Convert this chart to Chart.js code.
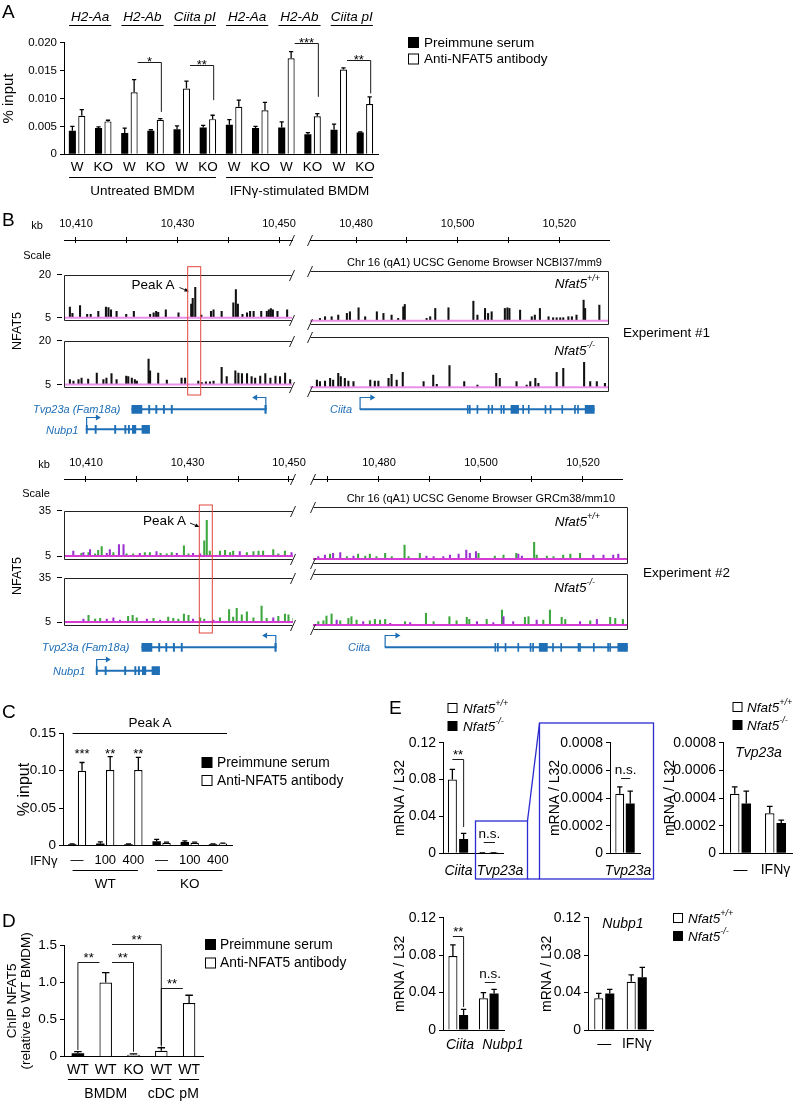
<!DOCTYPE html>
<html>
<head>
<meta charset="utf-8">
<title>NFAT5 ChIP and mRNA</title>
<script src="https://cdn.jsdelivr.net/npm/chart.js"></script>
<style>
  html, body { margin: 0; padding: 0; background: #fff; }
  #page { position: relative; width: 793px; height: 1101px; overflow: hidden; background: #fff; }
  #page canvas { position: absolute; }
  #overlay { position: absolute; left: 0; top: 0; z-index: 5; font-family: "Liberation Sans", Arial, Helvetica, sans-serif; }
</style>
</head>
<body>
<div id="page"><svg id="overlay" width="793" height="1101"></svg></div>
<script>
// ---------- panel A: ChIP % input ----------
const aTargets = ['H2-Aa', 'H2-Ab', 'Ciita pI', 'H2-Aa', 'H2-Ab', 'Ciita pI'];
const aCategories = ['W', 'KO', 'W', 'KO', 'W', 'KO', 'W', 'KO', 'W', 'KO', 'W', 'KO'];
const aGroups = ['Untreated BMDM', 'IFN\u03b3-stimulated BMDM'];
const aTicks = [0, 0.005, 0.01, 0.015, 0.02];
const aPreimmune = [0.0042, 0.0047, 0.0038, 0.0042, 0.0045, 0.0048, 0.0053, 0.0047, 0.0048, 0.0036, 0.0044, 0.0039];
const aPreimmuneErr = [0.0008, 0.0002, 0.0009, 0.0002, 0.0006, 0.0004, 0.0009, 0.0003, 0.0010, 0.0003, 0.0010, 0.0001];
const aAntiNfat5 = [0.0069, 0.0059, 0.0111, 0.0062, 0.0118, 0.0063, 0.0085, 0.0079, 0.0172, 0.0068, 0.0152, 0.0090];
const aAntiNfat5Err = [0.0011, 0.0002, 0.0023, 0.0002, 0.0013, 0.0007, 0.0012, 0.0014, 0.0012, 0.0005, 0.0003, 0.0013];

// ---------- panel B: genome browser ----------
const rulerTicks = [10410, 10420, 10430, 10440, 10450, 10470, 10480, 10490, 10500, 10510, 10520];
const rulerLabels = [10410, 10430, 10450, 10480, 10500, 10520];
// [kb, signal]
const exp1WtPeaks = [
  [10408.8, 8.7], [10409.3, 6.5], [10410.8, 9.2], [10412.2, 6.2], [10412.9, 6.2], [10414.4, 7.2], [10415.9, 8.7],
  [10416.4, 8.5], [10416.9, 7.7], [10418.0, 7.2], [10419.9, 6.2], [10421.4, 7.2], [10424.6, 6.2], [10425.3, 6.7],
  [10425.8, 7.2], [10426.2, 6.9], [10427.7, 7.7], [10430.2, 6.7], [10432.7, 9.7], [10433.0, 11.7], [10433.5, 15.6],
  [10434.7, 5.9], [10436.6, 7.2], [10437.1, 7.7], [10438.7, 7.2], [10441.0, 10.2], [10441.5, 14.8], [10441.9, 9.7],
  [10442.8, 6.2], [10443.7, 6.7], [10444.3, 7.2], [10445.0, 7.2], [10446.5, 7.2], [10447.6, 7.2], [10448.0, 7.7],
  [10448.4, 8.2], [10448.8, 7.7], [10449.7, 7.2], [10451.6, 7.7],
  [10472.9, 5.7], [10473.9, 6.2], [10475.2, 6.2], [10476.5, 6.7], [10478.2, 7.2], [10478.8, 7.7], [10480.5, 8.9],
  [10481.8, 6.2], [10484.1, 7.7], [10485.4, 7.2], [10487.0, 6.7], [10488.3, 5.7], [10489.3, 9.2], [10489.6, 9.9],
  [10493.9, 5.7], [10494.6, 6.2], [10495.6, 8.7], [10498.2, 8.9], [10503.1, 10.9], [10503.9, 6.7], [10505.4, 8.7],
  [10506.0, 7.2], [10506.7, 7.7], [10509.3, 8.7], [10509.8, 8.9], [10510.2, 8.7], [10512.3, 8.2], [10514.6, 6.2],
  [10515.2, 6.7], [10516.2, 8.7], [10517.9, 6.2], [10518.8, 5.9], [10519.5, 5.9], [10520.2, 5.9], [10520.8, 5.9],
  [10521.8, 6.2], [10522.5, 6.2], [10523.4, 6.7], [10524.8, 11.2], [10525.1, 8.7], [10527.9, 9.7]
];
const exp1KoPeaks = [
  [10408.8, 6.7], [10409.5, 6.2], [10410.5, 6.7], [10411.1, 7.2], [10412.4, 6.9], [10414.1, 8.9], [10415.4, 6.7],
  [10416.0, 7.2], [10417.0, 8.7], [10418.0, 6.7], [10419.9, 7.9], [10420.3, 7.7], [10421.0, 7.2], [10421.6, 6.7],
  [10422.0, 6.2], [10424.3, 13.7], [10424.6, 9.7], [10426.2, 8.9], [10427.9, 6.5], [10430.8, 7.2], [10431.5, 7.2],
  [10434.1, 6.2], [10434.8, 5.7], [10435.6, 5.9], [10436.4, 5.9], [10437.1, 6.2], [10438.7, 10.9], [10439.7, 7.7],
  [10441.4, 9.7], [10442.0, 8.9], [10442.7, 8.7], [10443.7, 8.7], [10444.6, 7.7], [10445.3, 7.2], [10446.3, 7.9],
  [10447.3, 8.7], [10448.3, 7.2], [10449.3, 7.9], [10450.2, 7.7], [10451.2, 8.9], [10452.2, 6.7],
  [10472.3, 7.2], [10472.9, 6.7], [10473.9, 6.9], [10474.9, 7.7], [10475.5, 7.2], [10476.5, 9.2], [10477.0, 8.2],
  [10477.8, 7.7], [10478.5, 6.9], [10479.5, 6.7], [10482.8, 7.2], [10483.7, 6.9], [10484.4, 6.9], [10486.4, 7.7],
  [10487.0, 8.9], [10488.0, 7.2], [10489.2, 9.5], [10493.3, 6.7], [10495.2, 8.7], [10495.9, 5.9], [10498.4, 11.5],
  [10501.3, 6.7], [10503.9, 5.7], [10507.6, 9.2], [10508.3, 7.7], [10511.6, 6.7], [10513.6, 5.7], [10514.3, 6.7],
  [10515.3, 7.7], [10515.9, 6.2], [10519.5, 9.5], [10520.8, 10.7], [10524.9, 12.5], [10526.1, 6.7], [10527.4, 6.7],
  [10529.0, 6.2]
];
const exp2WtGreen = [
  [10409.1, 6.7], [10410.5, 7.3], [10411.8, 6.4], [10412.4, 8.7], [10413.1, 11.2], [10415.4, 7.3], [10418.0, 6.4],
  [10419.3, 6.4], [10421.6, 7.3], [10422.6, 7.3], [10424.7, 6.7], [10425.9, 6.4], [10426.9, 7.3], [10429.3, 11.8],
  [10430.2, 6.4], [10433.3, 15.1], [10433.8, 28.6], [10434.4, 8.3], [10436.4, 8.3], [10437.4, 8.7], [10438.4, 7.3],
  [10439.0, 8.3], [10441.7, 7.3], [10443.0, 7.9], [10444.0, 8.3], [10444.9, 8.3], [10446.9, 9.3], [10447.9, 6.4],
  [10449.2, 8.3],
  [10470.4, 7.9], [10473.7, 6.4], [10475.9, 7.9], [10477.3, 6.7], [10478.2, 7.9], [10479.5, 6.4], [10481.2, 8.3],
  [10482.5, 6.4], [10485.0, 13.1], [10485.8, 6.4], [10488.0, 8.3], [10499.5, 8.3], [10502.7, 6.7], [10504.4, 7.3],
  [10506.9, 8.3], [10510.4, 14.7], [10510.9, 7.3], [10512.9, 6.7], [10514.2, 6.4], [10516.1, 7.3], [10517.5, 7.9],
  [10519.4, 8.3]
];
const exp2WtPurple = [
  [10407.5, 8.3], [10409.5, 7.3], [10410.8, 9.3], [10414.1, 6.7], [10414.7, 9.3], [10416.5, 12.5], [10417.4, 12.5],
  [10420.6, 6.7], [10423.9, 7.9], [10427.9, 6.7], [10431.1, 6.7], [10432.5, 6.4], [10440.3, 7.9], [10450.5, 7.3],
  [10468.1, 6.4], [10469.4, 7.3], [10471.0, 8.3], [10472.4, 8.7], [10475.0, 6.7], [10489.3, 6.7], [10490.7, 6.4],
  [10492.6, 6.4], [10493.9, 7.3], [10495.6, 7.9], [10497.1, 10.2], [10497.8, 8.3], [10499.0, 9.3], [10507.3, 7.9],
  [10508.0, 6.7], [10522.0, 7.3], [10524.0, 7.3], [10525.9, 7.3], [10526.9, 7.9]
];
const exp2KoGreen = [
  [10410.5, 9.5], [10411.8, 7.0], [10412.8, 7.5], [10418.3, 8.9], [10419.2, 9.5], [10420.0, 7.9], [10423.3, 7.5],
  [10426.2, 8.3], [10427.2, 7.5], [10428.2, 7.0], [10429.3, 10.3], [10430.2, 9.5], [10432.5, 7.9], [10433.3, 7.0],
  [10436.4, 7.9], [10438.2, 13.4], [10439.0, 8.3], [10439.7, 14.2], [10440.7, 9.9], [10441.7, 11.9], [10443.0, 7.9],
  [10444.6, 15.8], [10445.6, 7.5], [10447.9, 8.9], [10449.2, 10.3], [10449.9, 9.9], [10450.9, 7.5],
  [10468.1, 7.0], [10469.1, 7.5], [10469.7, 10.3], [10470.7, 11.5], [10472.4, 7.5], [10474.0, 8.9], [10474.6, 9.9],
  [10475.6, 7.9], [10478.2, 7.5], [10479.2, 8.3], [10480.2, 7.9], [10481.2, 8.3], [10485.1, 7.0], [10489.2, 11.9],
  [10490.7, 7.0], [10493.8, 9.9], [10495.2, 7.5], [10497.2, 9.5], [10497.7, 8.3], [10501.1, 8.3], [10504.1, 13.8],
  [10508.6, 9.5], [10509.3, 9.9], [10512.2, 7.9], [10513.5, 13.8], [10515.8, 9.5], [10516.5, 8.3], [10521.4, 7.5],
  [10525.3, 9.5], [10526.3, 8.9], [10527.8, 8.3]
];
const exp2KoPurple = [
  [10409.5, 7.0], [10414.1, 7.0], [10415.4, 7.9], [10416.7, 6.4], [10422.0, 7.0], [10424.6, 6.4], [10431.1, 7.0],
  [10435.1, 6.4], [10446.9, 7.9], [10471.7, 7.9], [10476.9, 7.0], [10482.2, 6.0], [10486.1, 6.4], [10499.2, 7.0],
  [10502.4, 6.4], [10504.4, 9.9], [10506.3, 7.0], [10510.9, 7.9], [10519.4, 7.0], [10522.7, 8.3]
];
// gene models, kb
const tvp23aSpan = [10421.0, 10447.5];
const tvp23aExons = [[10421.0, 10423.0], [10424.3, 10424.55], [10425.7, 10425.95], [10427.2, 10427.45], [10428.75, 10429.0], [10447.2, 10447.5]];
const tvp23aArrow = [10447.4, -2.7];
const nubp1Span = [10412.0, 10424.5];
const nubp1Exons = [[10412.0, 10412.25], [10413.75, 10414.0], [10417.6, 10417.85], [10419.6, 10419.85], [10420.3, 10420.55], [10421.1, 10421.8], [10423.0, 10424.5]];
const nubp1Arrow = [10412.1, 2.8];
const ciitaSpanMm9 = [10480.8, 10526.9];
const ciitaExonsMm9 = [[10501.9, 10502.1], [10502.3, 10502.5], [10503.8, 10504.0], [10506.0, 10506.2], [10506.7, 10506.9],
  [10508.5, 10508.7], [10509.0, 10509.2], [10510.5, 10512.0], [10512.8, 10513.0], [10513.9, 10514.1], [10517.2, 10517.4],
  [10518.2, 10518.4], [10520.5, 10520.7], [10523.0, 10523.2], [10523.6, 10523.8], [10525.1, 10526.9]];
const ciitaArrowMm9 = [10480.8, 3.0];
const ciitaSpanMm10 = [10481.2, 10528.7];
const ciitaExonsMm10 = [[10502.7, 10502.9], [10503.2, 10503.4], [10504.7, 10504.9], [10507.2, 10507.4], [10509.6, 10509.8],
  [10510.1, 10510.3], [10511.4, 10513.0], [10514.0, 10514.2], [10515.6, 10515.8], [10519.0, 10519.2], [10519.3, 10519.5],
  [10522.0, 10522.2], [10524.8, 10525.0], [10525.2, 10525.4], [10526.8, 10528.7]];
const ciitaArrowMm10 = [10481.2, 3.0];

// ---------- panel C: Peak A ChIP ----------
const cCategories = ['\u2014', '100', '400', '\u2014', '100', '400'];
const cGroups = ['WT', 'KO'];
const cTicks = [0, 0.05, 0.10, 0.15];
const cPreimmune = [0.002, 0.003, 0.002, 0.006, 0.005, 0.002];
const cPreimmuneErr = [0.0005, 0.002, 0.0005, 0.0025, 0.0015, 0.0005];
const cAntiNfat5 = [0.100, 0.101, 0.101, 0.004, 0.004, 0.003];
const cAntiNfat5Err = [0.011, 0.018, 0.017, 0.0008, 0.0008, 0.0005];

// ---------- panel D: relative ChIP ----------
const dCategories = ['WT', 'WT', 'KO', 'WT', 'WT'];
const dGroups = ['BMDM', 'cDC', 'pM'];
const dTicks = [0, 0.5, 1.0, 1.5];
const dPreimmune = [0.045, null, null, null, null];
const dPreimmuneErr = [0.022, 0, 0, 0, 0];
const dAntiNfat5 = [null, 0.995, 0.027, 0.08, 0.72];
const dAntiNfat5Err = [0, 0.135, 0.01, 0.04, 0.105];

// ---------- panel E: mRNA / L32 ----------
const eBigTicks = [0, 0.04, 0.08, 0.12];
const eSmallTicks = [0, 0.0002, 0.0004, 0.0006, 0.0008];
const e1Genes = ['Ciita', 'Tvp23a'];
const e1Wt = [0.080, 0.00043], e1WtErr = [0.011, 0.00005];
const e1Ko = [0.0155, 0.00036], e1KoErr = [0.0062, 0.00009];
const e2Genes = ['Tvp23a'];
const e2Wt = [0.00043], e2WtErr = [0.00005];
const e2Ko = [0.00036], e2KoErr = [0.00009];
const e3Treatments = ['\u2014', 'IFN\u03b3'];
const e3Wt = [0.00043, 0.00029], e3WtErr = [0.00005, 0.00005];
const e3Ko = [0.00036, 0.00022], e3KoErr = [0.00009, 0.00002];
const e4Genes = ['Ciita', 'Nubp1'];
const e4Wt = [0.079, 0.034], e4WtErr = [0.012, 0.006];
const e4Ko = [0.016, 0.039], e4KoErr = [0.006, 0.0045];
const e5Treatments = ['\u2014', 'IFN\u03b3'];
const e5Wt = [0.034, 0.0516], e5WtErr = [0.0052, 0.0072];
const e5Ko = [0.039, 0.0563], e5KoErr = [0.0045, 0.0107];

// ================= drawing =================
const FONT = '"Liberation Sans", Arial, Helvetica, sans-serif';
const GENE_BLUE = '#1f6fb6';
Chart.defaults.font.family = FONT;
Chart.defaults.color = '#000';
Chart.defaults.animation = false;
Chart.defaults.responsive = false;
Chart.defaults.events = [];
Chart.defaults.plugins.legend.display = false;
Chart.defaults.plugins.tooltip.enabled = false;

const page = document.getElementById('page');

// error bars and significance marks, read from dataset.errors / data.sig
const extras = {
  id: 'extras',
  afterDatasetsDraw(chart) {
    const ctx = chart.ctx, ys = chart.scales.y;
    ctx.save();
    ctx.strokeStyle = '#000';
    ctx.fillStyle = '#000';
    chart.data.datasets.forEach((ds, di) => {
      if (!ds.errors) return;
      ctx.lineWidth = 1.3;
      chart.getDatasetMeta(di).data.forEach((bar, j) => {
        const v = ds.data[j], e = ds.errors[j];
        if (v == null || !e) return;
        const yt = ys.getPixelForValue(v + e), cap = bar.width * 0.3;
        ctx.beginPath();
        ctx.moveTo(bar.x, bar.y);
        ctx.lineTo(bar.x, yt);
        ctx.moveTo(bar.x - cap, yt);
        ctx.lineTo(bar.x + cap, yt);
        ctx.stroke();
      });
    });
    (chart.data.sig || []).forEach(b => {
      const px = p => {
        const bar = chart.getDatasetMeta(p[1]).data[p[0]];
        return bar.x + p[2] * bar.width / 2;
      };
      const x1 = px(b.from), x2 = px(b.to), yl = Math.round(ys.getPixelForValue(b.y)) + 0.5;
      if (!b.noLine) {
        ctx.lineWidth = 0.9;
        ctx.beginPath();
        if (b.drop && b.drop[0] != null) {
          ctx.moveTo(x1, ys.getPixelForValue(b.drop[0]));
          ctx.lineTo(x1, yl);
        } else {
          ctx.moveTo(x1, yl);
        }
        ctx.lineTo(x2, yl);
        if (b.drop && b.drop[1] != null) ctx.lineTo(x2, ys.getPixelForValue(b.drop[1]));
        ctx.stroke();
      }
      ctx.font = (b.size || 13) + 'px ' + FONT;
      ctx.textAlign = 'center';
      ctx.textBaseline = 'alphabetic';
      ctx.fillText(b.label, (x1 + x2) / 2, yl + (b.dy || 0));
    });
    ctx.restore();
  }
};

// browser track frames and axis-break slashes
const frame = {
  id: 'frame',
  afterDraw(chart) {
    const f = chart.data.frame;
    if (!f) return;
    const ctx = chart.ctx, a = chart.chartArea;
    const L = Math.round(a.left) + 0.5, R = Math.round(a.right) - 0.5;
    const T = Math.round(a.top) + 0.5, B = Math.round(a.bottom) - 0.5;
    ctx.save();
    ctx.strokeStyle = '#222';
    ctx.lineWidth = 1;
    ctx.beginPath();
    if (f.box) {
      ctx.moveTo(L, T); ctx.lineTo(R, T);
      ctx.moveTo(L, B); ctx.lineTo(R, B);
      if (f.side === 'l') { ctx.moveTo(L, T); ctx.lineTo(L, B); }
      if (f.side === 'r') { ctx.moveTo(R, T); ctx.lineTo(R, B); }
    }
    const sx = f.slash === 'r' ? a.right : a.left;
    (f.box ? [T, B] : [T]).forEach(y => {
      ctx.moveTo(sx - 2.5, y + 5.5);
      ctx.lineTo(sx + 2.5, y - 5.5);
    });
    ctx.stroke();
    ctx.restore();
  }
};

// transcription start arrows for the gene models
const geneArrows = {
  id: 'geneArrows',
  afterDatasetsDraw(chart) {
    const list = chart.data.arrows;
    if (!list) return;
    const ctx = chart.ctx, a = chart.chartArea, xs = chart.scales.x, ys = chart.scales.y;
    ctx.save();
    ctx.strokeStyle = GENE_BLUE;
    ctx.fillStyle = GENE_BLUE;
    ctx.lineWidth = 1.2;
    list.forEach(([kb, row, len]) => {
      const x0 = xs.getPixelForValue(kb);
      if (x0 < a.left - 1 || x0 > a.right + 1) return;
      const x1 = xs.getPixelForValue(kb + len), y0 = ys.getPixelForValue(row), y1 = Math.round(y0 - 12) + 0.5;
      const d = Math.sign(len);
      ctx.beginPath();
      ctx.moveTo(x0, y0);
      ctx.lineTo(x0, y1);
      ctx.lineTo(x1 - d * 3, y1);
      ctx.stroke();
      ctx.beginPath();
      ctx.moveTo(x1, y1);
      ctx.lineTo(x1 - d * 5, y1 - 3);
      ctx.lineTo(x1 - d * 5, y1 + 3);
      ctx.closePath();
      ctx.fill();
    });
    ctx.restore();
  }
};
Chart.register(extras, frame, geneArrows);

// put a canvas so that the chart area lands on box L,T,R,B of the page
function mount(box, yw, xh, topH) {
  const cl = Math.floor(box.L - box.ml), ct = Math.floor(box.T - box.mt);
  const cr = Math.ceil(box.R + box.mr), cb = Math.ceil(box.B + box.mb);
  const cv = document.createElement('canvas');
  cv.width = cr - cl;
  cv.height = cb - ct;
  cv.style.left = cl + 'px';
  cv.style.top = ct + 'px';
  cv.style.width = (cr - cl) + 'px';
  cv.style.height = (cb - ct) + 'px';
  page.appendChild(cv);
  const padding = {left: box.L - cl - yw, top: box.T - ct - topH, right: cr - box.R, bottom: cb - box.B - xh};
  return {cv, padding};
}

function barChart(box, o) {
  const {cv, padding} = mount(box, o.yw, o.xh, 0);
  return new Chart(cv, {
    type: 'bar',
    data: {
      labels: o.labels,
      datasets: o.sets.map(s => ({
        data: s.data, errors: s.err, backgroundColor: s.fill, borderColor: '#000',
        borderWidth: s.fill === '#000' ? 0 : 1.2, categoryPercentage: o.catPct, barPercentage: o.barPct,
        skipNull: !!o.skipNull
      })),
      sig: o.sig || []
    },
    options: {
      layout: {padding, autoPadding: false},
      scales: {
        x: {
          afterFit: s => { s.height = o.xh; },
          grid: {display: false, drawTicks: false},
          border: {color: '#000', width: 1},
          ticks: {display: !o.hideX, font: {size: o.xFont, style: o.xItalic ? 'italic' : 'normal'}, padding: o.xPad, autoSkip: false, maxRotation: 0}
        },
        y: {
          min: 0, max: o.yTicks[o.yTicks.length - 1],
          afterFit: s => { s.width = o.yw; },
          afterBuildTicks: s => { s.ticks = o.yTicks.map(v => ({value: v})); },
          ticks: {font: {size: o.yFont}, padding: 3, callback: o.fmt},
          grid: {drawOnChartArea: false, drawTicks: true, tickLength: 4, color: '#000'},
          border: {color: '#000', width: 1},
          title: {display: true, text: o.title, font: {size: o.titleFont, lineHeight: o.titleLH || 1.2}, padding: {top: o.titlePad, bottom: 0}}
        }
      }
    }
  });
}

function trackChart(exp, si, ti) {
  const seg = exp.segs[si], tr = exp.tracks[ti], left = si === 0;
  const yw = left ? seg.px[0] : 0;
  const box = {L: seg.px[0], R: seg.px[1], T: tr.top, B: tr.bottom, ml: left ? seg.px[0] : 10, mr: 6, mt: 9, mb: 9};
  const {cv, padding} = mount(box, yw, 0, 0);
  const datasets = exp.series[ti].map(s => ({
    type: 'bar', data: s.peaks.map(p => ({x: p[0], y: p[1]})), backgroundColor: s.color,
    barThickness: 1.4, grouped: false, base: 5, clip: 0, order: 1
  }));
  datasets.push({
    type: 'line', data: [{x: seg.range[0], y: 5}, {x: seg.range[1], y: 5}], borderColor: exp.baseColor,
    borderWidth: 2, pointRadius: 0, order: 0, clip: 0
  });
  return new Chart(cv, {
    type: 'bar',
    data: {datasets, frame: {box: true, side: left ? 'l' : 'r', slash: left ? 'r' : 'l'}},
    options: {
      layout: {padding, autoPadding: false},
      scales: {
        x: {type: 'linear', offset: false, min: seg.range[0], max: seg.range[1], display: false},
        y: {
          type: 'linear', min: tr.min, max: tr.max, display: left,
          afterFit: s => { s.width = yw; },
          afterBuildTicks: s => { s.ticks = [5, tr.max].map(v => ({value: v})); },
          ticks: {font: {size: 11}, padding: 6},
          grid: {drawOnChartArea: false, drawTicks: true, tickLength: 7, tickBorderDash: [5, 2], color: '#000'},
          border: {display: false}
        }
      }
    }
  });
}

function rulerChart(exp, si) {
  const seg = exp.segs[si];
  const range = seg.rulerRange || seg.range, px = seg.rulerPx || seg.px;
  const TOPH = 22;
  const box = {L: px[0], R: px[1], T: exp.rulerY, B: exp.rulerY + 3, ml: 25, mr: 25, mt: TOPH, mb: 8};
  const {cv, padding} = mount(box, 0, 0, TOPH);
  return new Chart(cv, {
    type: 'scatter',
    data: {datasets: [{data: []}], frame: {box: false, slash: si === 0 ? 'r' : 'l'}},
    options: {
      layout: {padding, autoPadding: false},
      scales: {
        x: {
          type: 'linear', position: 'top', offset: false, min: range[0], max: range[1],
          afterFit: s => { s.height = TOPH; },
          afterBuildTicks: s => { s.ticks = rulerTicks.filter(v => v >= range[0] && v <= range[1]).map(v => ({value: v})); },
          ticks: {font: {size: 11}, padding: 6, maxRotation: 0, autoSkip: false,
            callback: v => rulerLabels.includes(v) ? v.toLocaleString('en-US') : ''},
          grid: {drawOnChartArea: true, drawTicks: true, tickLength: 3, color: '#000', lineWidth: 1},
          border: {display: true, color: '#000', width: 1}
        },
        y: {display: false, min: 0, max: 1}
      }
    }
  });
}

function geneChart(exp, si) {
  const seg = exp.segs[si];
  const box = {L: seg.px[0], R: seg.px[1], T: exp.genesTop, B: exp.genesTop + exp.genesH, ml: 0, mr: 0, mt: 2, mb: 2};
  const {cv, padding} = mount(box, 0, 0, 0);
  return new Chart(cv, {
    type: 'bar',
    data: {
      datasets: [
        {data: exp.genes.map(g => ({x: g.span, y: g.row})), backgroundColor: GENE_BLUE, barThickness: 1.2, grouped: false, clip: 0},
        {data: exp.genes.flatMap(g => g.exons.map(e => ({x: e, y: g.row}))), backgroundColor: GENE_BLUE, barThickness: 8, grouped: false, clip: 0}
      ],
      arrows: exp.genes.map(g => [g.arrow[0], g.row, g.arrow[1]])
    },
    options: {
      indexAxis: 'y',
      layout: {padding, autoPadding: false},
      scales: {
        x: {type: 'linear', offset: false, min: seg.range[0], max: seg.range[1], display: false},
        y: {type: 'linear', offset: false, min: -1, max: 1.5, reverse: true, display: false}
      }
    }
  });
}

// ---------- overlay text and decorations ----------
const svgEls = [];
function txt(x, y, s, o = {}) {
  const a = [`x="${x}"`, `y="${y}"`, `font-size="${o.size || 13.5}"`, `text-anchor="${o.anchor || 'start'}"`, 'dominant-baseline="central"'];
  if (o.italic) a.push('font-style="italic"');
  if (o.fill) a.push(`fill="${o.fill}"`);
  if (o.rot) a.push(`transform="rotate(-90 ${x} ${y})"`);
  svgEls.push(`<text ${a.join(' ')}>${s}</text>`);
}
function ln(x1, y1, x2, y2, o = {}) {
  svgEls.push(`<line x1="${x1}" y1="${y1}" x2="${x2}" y2="${y2}" stroke="${o.stroke || '#000'}" stroke-width="${o.w || 1}"/>`);
}
function rect(x, y, w, h, o = {}) {
  svgEls.push(`<rect x="${x}" y="${y}" width="${w}" height="${h}" fill="${o.fill || 'none'}" stroke="${o.stroke || '#000'}" stroke-width="${o.w || 1}"/>`);
}
function arrow(x1, y1, x2, y2) {
  const dx = x2 - x1, dy = y2 - y1, n = Math.hypot(dx, dy), ux = dx / n, uy = dy / n;
  const bx = x2 - 4.5 * ux, by = y2 - 4.5 * uy;
  ln(x1, y1, bx, by, {w: 0.9});
  svgEls.push(`<polygon points="${x2},${y2} ${bx - 2 * uy},${by + 2 * ux} ${bx + 2 * uy},${by - 2 * ux}" fill="#000"/>`);
}
const nfat = g => `Nfat5<tspan dy="-5" font-size="9">${g}</tspan>`;
function legend(x, y, fill, label, o = {}) {
  rect(x + 0.5, y - 4.5, o.sq || 10, o.sq || 10, {fill});
  txt(x + (o.gap || 16), y, label, o);
}
function groupLines(chart, names, ranges, lineY, textY, padL, padR, o = {}) {
  const xs = chart.scales.x;
  names.forEach((g, i) => {
    const x1 = xs.getPixelForValue(ranges[i][0]) - padL, x2 = xs.getPixelForValue(ranges[i][1]) + padR;
    ln(x1, lineY, x2, lineY);
    txt((x1 + x2) / 2, textY, g, Object.assign({anchor: 'middle'}, o));
  });
}

// ---------- panel A ----------
const chartA = barChart({L: 64, T: 42.7, R: 378, B: 154.3, ml: 64, mt: 14, mr: 20, mb: 30}, {
  yw: 64, xh: 26, labels: aCategories, yTicks: aTicks, fmt: v => v === 0 ? '0' : v.toFixed(3),
  sets: [{data: aPreimmune, err: aPreimmuneErr, fill: '#000'}, {data: aAntiNfat5, err: aAntiNfat5Err, fill: '#fff'}],
  catPct: 0.72, barPct: 0.75, yFont: 11.5, xFont: 13.5, xPad: 4.5,
  title: '% input', titleFont: 15, titlePad: 0,
  sig: [
    {from: [2, 1, 1], to: [3, 1, 0.3], y: 0.0166, drop: [null, 0.0076], label: '*', dy: 3},
    {from: [4, 1, 1], to: [5, 1, 0.3], y: 0.0160, drop: [null, 0.0097], label: '**', dy: 3},
    {from: [8, 1, 1], to: [9, 1, 0.3], y: 0.0199, drop: [null, 0.0103], label: '***', dy: 3},
    {from: [10, 1, 1], to: [11, 1, 0.3], y: 0.0169, drop: [null, 0.0109], label: '**', dy: 3}
  ]
});
txt(2, 11, 'A', {size: 19});
groupLines(chartA, aTargets, [[0, 1], [2, 3], [4, 5], [6, 7], [8, 9], [10, 11]], 25.5, 16, 8, 8, {italic: true});
groupLines(chartA, aGroups, [[0, 5], [6, 11]], 177.5, 190, 8, 8);
legend(408, 42, '#000', 'Preimmune serum');
legend(408, 58.5, '#fff', 'Anti-NFAT5 antibody');

// ---------- panel B ----------
const exp1 = {
  rulerY: 240, baseColor: '#ec8fea',
  segs: [{range: [10407.64, 10452.56], px: [64, 292]}, {range: [10470.94, 10529.8], px: [310, 609]}],
  tracks: [{top: 271, bottom: 325, min: 3.7, max: 20}, {top: 337.3, bottom: 391.7, min: 3.68, max: 20}],
  series: [[{peaks: exp1WtPeaks, color: '#111'}], [{peaks: exp1KoPeaks, color: '#111'}]],
  genesTop: 389.3, genesH: 50,
  genes: [
    {span: tvp23aSpan, exons: tvp23aExons, row: 0, arrow: tvp23aArrow},
    {span: nubp1Span, exons: nubp1Exons, row: 1, arrow: nubp1Arrow},
    {span: ciitaSpanMm9, exons: ciitaExonsMm9, row: 0, arrow: ciitaArrowMm9}
  ]
};
const exp2 = {
  rulerY: 479, baseColor: '#d43cd4',
  segs: [{range: [10405.67, 10450.79], px: [64, 293]},
    {range: [10467.06, 10528.8], px: [313, 628], rulerRange: [10467.06, 10527.65], rulerPx: [313, 622]}],
  tracks: [{top: 507.3, bottom: 564, min: 2.1, max: 35}, {top: 574, bottom: 630, min: 2.06, max: 35}],
  series: [
    [{peaks: exp2WtPurple, color: '#9a32cf'}, {peaks: exp2WtGreen, color: '#3ea63e'}],
    [{peaks: exp2KoPurple, color: '#9a32cf'}, {peaks: exp2KoGreen, color: '#3ea63e'}]
  ],
  genesTop: 623.9, genesH: 58.5,
  genes: [
    {span: tvp23aSpan, exons: tvp23aExons, row: 0, arrow: tvp23aArrow},
    {span: nubp1Span, exons: nubp1Exons, row: 1, arrow: nubp1Arrow},
    {span: ciitaSpanMm10, exons: ciitaExonsMm10, row: 0, arrow: ciitaArrowMm10}
  ]
};
[exp1, exp2].forEach(exp => {
  [0, 1].forEach(si => {
    rulerChart(exp, si);
    trackChart(exp, si, 0);
    trackChart(exp, si, 1);
    geneChart(exp, si);
  });
});
txt(2, 219, 'B', {size: 19});
// experiment 1 labels
txt(37, 224.5, 'kb', {size: 11, anchor: 'middle'});
txt(37, 255, 'Scale', {size: 11, anchor: 'middle'});
txt(17, 331, 'NFAT5', {size: 12.5, anchor: 'middle', rot: true});
txt(602, 262, 'Chr 16 (qA1) UCSC Genome Browser NCBI37/mm9', {size: 11, anchor: 'end'});
txt(600, 283, nfat('+/+'), {italic: true, anchor: 'end'});
txt(595, 350, nfat('-/-'), {italic: true, anchor: 'end'});
txt(623, 332, 'Experiment #1');
txt(153, 284, 'Peak A', {anchor: 'middle'});
arrow(179.5, 287.5, 189, 291.5);
rect(187.7, 266.7, 13, 128.3, {stroke: '#e2463e'});
txt(33, 409, 'Tvp23a (Fam18a)', {size: 11, italic: true, fill: GENE_BLUE});
txt(330, 409, 'Ciita', {size: 11, italic: true, fill: GENE_BLUE});
txt(46, 430, 'Nubp1', {size: 11, italic: true, fill: GENE_BLUE});
// experiment 2 labels
txt(44, 463.5, 'kb', {size: 11, anchor: 'middle'});
txt(36, 492.7, 'Scale', {size: 11, anchor: 'middle'});
txt(17, 576, 'NFAT5', {size: 12.5, anchor: 'middle', rot: true});
txt(615, 498, 'Chr 16 (qA1) UCSC Genome Browser GRCm38/mm10', {size: 11, anchor: 'end'});
txt(600, 521, nfat('+/+'), {italic: true, anchor: 'end'});
txt(595, 587, nfat('-/-'), {italic: true, anchor: 'end'});
txt(643, 572, 'Experiment #2');
txt(164.5, 520, 'Peak A', {anchor: 'middle'});
arrow(190, 523, 199.5, 527);
rect(199.3, 505, 13, 128, {stroke: '#e2463e'});
txt(42, 647, 'Tvp23a (Fam18a)', {size: 11, italic: true, fill: GENE_BLUE});
txt(348, 647, 'Ciita', {size: 11, italic: true, fill: GENE_BLUE});
txt(53, 671, 'Nubp1', {size: 11, italic: true, fill: GENE_BLUE});

// ---------- panel C ----------
const chartC = barChart({L: 63, T: 733.3, R: 232, B: 845.7, ml: 63, mt: 14, mr: 20, mb: 28}, {
  yw: 63, xh: 24, labels: cCategories, yTicks: cTicks, fmt: v => v === 0 ? '0' : v.toFixed(2),
  sets: [{data: cPreimmune, err: cPreimmuneErr, fill: '#000'}, {data: cAntiNfat5, err: cAntiNfat5Err, fill: '#fff'}],
  catPct: 0.7, barPct: 0.85, yFont: 13.5, xFont: 13, xPad: 7,
  title: '% input', titleFont: 16, titlePad: 15,
  sig: [
    {from: [0, 1, 0], to: [0, 1, 0], y: 0.118, noLine: true, label: '***'},
    {from: [1, 1, 0], to: [1, 1, 0], y: 0.118, noLine: true, label: '**'},
    {from: [2, 1, 0], to: [2, 1, 0], y: 0.118, noLine: true, label: '**'}
  ]
});
txt(2, 711, 'C', {size: 19});
txt(150, 722.5, 'Peak A', {anchor: 'middle'});
ln(chartC.scales.x.getPixelForValue(0) - 4.5, 733.5, chartC.chartArea.right - 5, 733.5);
txt(30, 860.5, 'IFN\u03b3', {size: 13});
groupLines(chartC, cGroups, [[0, 2], [3, 5]], 870.5, 883, 4.5, 4.5, {size: 13.5});
legend(201.5, 762, '#000', 'Preimmune serum', {size: 13.8, gap: 15.5});
legend(201.5, 780, '#fff', 'Anti-NFAT5 antibody', {size: 13.8, gap: 15.5});

// ---------- panel D ----------
const chartD = barChart({L: 64, T: 945, R: 203, B: 1056.7, ml: 64, mt: 14, mr: 20, mb: 28}, {
  yw: 64, xh: 24, labels: dCategories, yTicks: dTicks, fmt: v => v === 0 ? '0' : v.toFixed(1),
  sets: [{data: dPreimmune, err: dPreimmuneErr, fill: '#000'}, {data: dAntiNfat5, err: dAntiNfat5Err, fill: '#fff'}],
  catPct: 0.9, barPct: 0.5, skipNull: true, yFont: 13.5, xFont: 14, xPad: 5,
  title: ['ChIP NFAT5', '(relative to WT BMDM)'], titleFont: 13.5, titleLH: 1.04, titlePad: 5,
  sig: [
    {from: [0, 0, 0], to: [1, 1, -1], y: 1.275, drop: [0.09, null], label: '**', dy: -1},
    {from: [1, 1, 1], to: [2, 1, 0], y: 1.275, drop: [null, 0.067], label: '**', dy: -1},
    {from: [1, 1, 1], to: [3, 1, 0], y: 1.513, drop: [null, 0.157], label: '**', dy: -1},
    {from: [3, 1, 0], to: [4, 1, -1], y: 0.918, drop: [0.134, null], label: '**', dy: -1}
  ]
});
txt(2, 920, 'D', {size: 19});
groupLines(chartD, dGroups, [[0, 2], [3, 3], [4, 4]], 1079.5, 1093, 10, 10, {size: 14});
legend(205, 944, '#000', 'Preimmune serum', {size: 13.8, gap: 15});
legend(205, 962.5, '#fff', 'Anti-NFAT5 antibody', {size: 13.8, gap: 15});

// ---------- panel E ----------
const eWtKo = (wt, wtErr, ko, koErr) => [{data: wt, err: wtErr, fill: '#fff'}, {data: ko, err: koErr, fill: '#000'}];
const fmt2 = v => v === 0 ? '0' : v.toFixed(2);
const fmt4 = v => v === 0 ? '0' : v.toFixed(4);
const eCommon = {xh: 26, yFont: 14, xFont: 14, title: 'mRNA / L32', titleFont: 14, titlePad: 1.6};
barChart({L: 443, T: 742.7, R: 503, B: 853.3, ml: 53, mt: 14, mr: 22, mb: 30}, Object.assign({}, eCommon, {
  yw: 53, labels: e1Genes, yTicks: eBigTicks, fmt: fmt2, hideX: true, xPad: 8.3,
  sets: eWtKo(e1Wt, e1WtErr, e1Ko, e1KoErr), catPct: 0.75, barPct: 0.8,
  sig: [
    {from: [0, 0, 0], to: [0, 1, 0], y: 0.102, drop: [null, 0.0285], label: '**', dy: -1},
    {from: [1, 0, 0.3], to: [1, 1, 0.3], y: 0.0123, label: 'n.s.', dy: -5, size: 13.5}
  ]
}));
barChart({L: 610, T: 742.7, R: 640, B: 853.3, ml: 65, mt: 14, mr: 22, mb: 30}, Object.assign({}, eCommon, {
  yw: 65, labels: e2Genes, yTicks: eSmallTicks, fmt: fmt4, hideX: true, xPad: 8.3,
  sets: eWtKo(e2Wt, e2WtErr, e2Ko, e2KoErr), catPct: 0.7, barPct: 0.85,
  sig: [{from: [0, 0, 0.3], to: [0, 1, 0], y: 0.000545, label: 'n.s.', dy: -5, size: 13.5}]
}));
barChart({L: 723, T: 742.7, R: 793, B: 853.3, ml: 63, mt: 14, mr: 22, mb: 30}, Object.assign({}, eCommon, {
  yw: 63, labels: e3Treatments, yTicks: eSmallTicks, fmt: fmt4, xPad: 8.3,
  sets: eWtKo(e3Wt, e3WtErr, e3Ko, e3KoErr), catPct: 0.66, barPct: 0.82
}));
barChart({L: 443, T: 917.7, R: 504, B: 1030, ml: 53, mt: 14, mr: 22, mb: 30}, Object.assign({}, eCommon, {
  yw: 53, labels: e4Genes, yTicks: eBigTicks, fmt: fmt2, hideX: true, xPad: 5.6,
  sets: eWtKo(e4Wt, e4WtErr, e4Ko, e4KoErr), catPct: 0.7, barPct: 0.85,
  sig: [
    {from: [0, 0, 0], to: [0, 1, 0], y: 0.1004, drop: [null, 0.0246], label: '**', dy: -1},
    {from: [1, 0, 0.3], to: [1, 1, 0.3], y: 0.0513, label: 'n.s.', dy: -5, size: 13.5}
  ]
}));
barChart({L: 588, T: 917.7, R: 653, B: 1030, ml: 51, mt: 14, mr: 22, mb: 30}, Object.assign({}, eCommon, {
  yw: 51, labels: e5Treatments, yTicks: eBigTicks, fmt: fmt2, xPad: 5.6,
  sets: eWtKo(e5Wt, e5WtErr, e5Ko, e5KoErr), catPct: 0.68, barPct: 0.82
}));
txt(389, 707, 'E', {size: 19});
// gene names under the E bar groups (set off-centre as in the figure)
txt(458.5, 870, e1Genes[0], {italic: true, size: 14, anchor: 'middle'});
txt(500, 870, e1Genes[1], {italic: true, size: 14, anchor: 'middle'});
txt(628, 870, e2Genes[0], {italic: true, size: 14, anchor: 'middle'});
txt(460, 1044, e4Genes[0], {italic: true, size: 14, anchor: 'middle'});
txt(503, 1044, e4Genes[1], {italic: true, size: 14, anchor: 'middle'});
legend(447.5, 708, '#fff', nfat('+/+'), {italic: true, sq: 9, gap: 15.5});
legend(447.5, 726, '#000', nfat('-/-'), {italic: true, sq: 9, gap: 15.5});
legend(732.5, 707, '#fff', nfat('+/+'), {italic: true, sq: 9, gap: 14.5});
legend(732.5, 725, '#000', nfat('-/-'), {italic: true, sq: 9, gap: 14.5});
legend(673, 918, '#fff', nfat('+/+'), {italic: true, sq: 9, gap: 15});
legend(673, 936, '#000', nfat('-/-'), {italic: true, sq: 9, gap: 15});
txt(758.5, 752, 'Tvp23a', {italic: true, size: 14, anchor: 'middle'});
txt(623, 923, 'Nubp1', {italic: true, size: 14, anchor: 'middle'});
// zoom-in frames
const BLUE = '#2b2bd0';
rect(475.5, 821, 52, 58, {stroke: BLUE, w: 1.3});
rect(539.5, 723, 114, 156, {stroke: BLUE, w: 1.3});
ln(527.5, 821, 539.5, 723, {stroke: BLUE, w: 1.3});
ln(527.5, 879, 539.5, 879, {stroke: BLUE, w: 1.3});

document.getElementById('overlay').innerHTML = svgEls.join('');
</script>
</body>
</html>
